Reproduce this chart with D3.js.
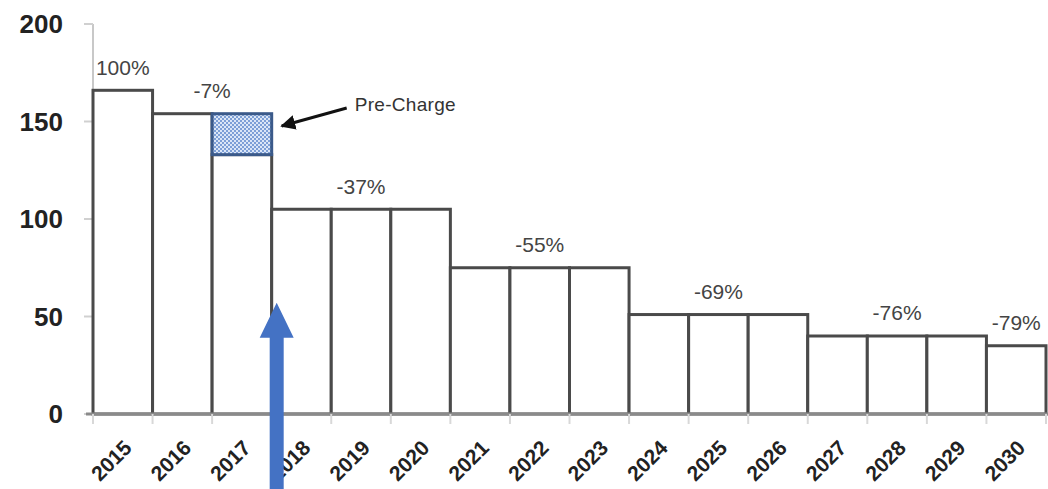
<!DOCTYPE html>
<html><head><meta charset="utf-8">
<script src="https://cdn.jsdelivr.net/npm/d3@7"></script>
<style>body{margin:0;background:#fff}svg{display:block}</style>
</head><body><svg id="c" width="1048" height="489"></svg>
<script>
const years = ["2015","2016","2017","2018","2019","2020","2021","2022","2023","2024","2025","2026","2027","2028","2029","2030"];
const values = [166,154,133,105,105,105,75,75,75,51,51,51,40,40,40,35];
const preCharge = [0,0,21,0,0,0,0,0,0,0,0,0,0,0,0,0];
const pctLabels = ["100%","-7%","-37%","-55%","-69%","-76%","-79%"];
const pctGroupFirst = ["2015","2016","2018","2021","2024","2027","2030"];
const pctGroupLast  = ["2015","2017","2020","2023","2026","2029","2030"];
const yTicks = [0,50,100,150,200];
const annotationText = "Pre-Charge";
const markerYear = "2018";

const svg = d3.select("#c");
const x = d3.scaleBand().domain(years).range([93,1046]).padding(0);
const y = d3.scaleLinear().domain([0,200]).range([414,24]);
const bw = x.bandwidth();
const FONT = "Liberation Sans, Arial, sans-serif";

const defs = svg.append("defs");
const pat = defs.append("pattern").attr("id","hatch").attr("patternUnits","userSpaceOnUse")
  .attr("width",4).attr("height",4);
pat.append("rect").attr("width",4).attr("height",4).attr("fill","#dbe6f7");
pat.append("rect").attr("width",2).attr("height",2).attr("fill","#7d9fd6");
pat.append("rect").attr("x",2).attr("y",2).attr("width",2).attr("height",2).attr("fill","#7d9fd6");
defs.append("marker").attr("id","ah").attr("viewBox","0 0 10 10").attr("refX",9).attr("refY",5)
  .attr("markerWidth",5).attr("markerHeight",5).attr("orient","auto")
  .append("path").attr("d","M0,0 L10,5 L0,10 z").attr("fill","#111");

// y axis line and ticks
svg.append("line").attr("x1",93).attr("x2",93).attr("y1",y(200)).attr("y2",y(0))
  .attr("stroke","#c8c8c8").attr("stroke-width",2);
svg.selectAll(".yt").data(yTicks).join("line").attr("x1",84).attr("x2",93)
  .attr("y1",d=>y(d)).attr("y2",d=>y(d)).attr("stroke","#d0d0d0").attr("stroke-width",2);
svg.selectAll(".yl").data(yTicks).join("text").attr("x",63).attr("y",d=>y(d))
  .attr("dy","0.36em").attr("text-anchor","end")
  .attr("font-family",FONT).attr("font-size",26).attr("font-weight","bold")
  .attr("fill","#222").text(d=>d);

// bars
svg.selectAll(".bar").data(years).join("rect")
  .attr("x",d=>x(d)).attr("width",bw)
  .attr("y",(d,i)=>y(values[i])).attr("height",(d,i)=>y(0)-y(values[i]))
  .attr("fill","#fff").attr("stroke","#4a4a4a").attr("stroke-width",3);
// pre-charge
svg.selectAll(".pre").data(years.filter((d,i)=>preCharge[i]>0)).join("rect")
  .attr("x",d=>x(d)).attr("width",bw)
  .attr("y",d=>{const i=years.indexOf(d);return y(values[i]+preCharge[i]);})
  .attr("height",d=>{const i=years.indexOf(d);return y(values[i])-y(values[i]+preCharge[i]);})
  .attr("fill","url(#hatch)").attr("stroke","#3b5a8a").attr("stroke-width",3);

// x axis
svg.append("line").attr("x1",86).attr("x2",1048).attr("y1",y(0)).attr("y2",y(0))
  .attr("stroke","#8a8a8a").attr("stroke-width",3);
svg.selectAll(".xt").data(years.concat(["end"])).join("line")
  .attr("x1",(d,i)=>93+i*bw).attr("x2",(d,i)=>93+i*bw).attr("y1",y(0)).attr("y2",y(0)+10)
  .attr("stroke","#d8d8d8").attr("stroke-width",2);
svg.selectAll(".xl").data(years).join("text")
  .attr("transform",d=>`translate(${x(d)+bw/2+5},${y(0)+30}) rotate(-45)`)
  .attr("text-anchor","end").attr("dy","0.35em")
  .attr("font-family",FONT).attr("font-size",21).attr("font-weight","bold")
  .attr("fill","#222").text(d=>d);

// percent labels
svg.selectAll(".pl").data(pctLabels).join("text")
  .attr("x",(d,i)=>(x(pctGroupFirst[i])+x(pctGroupLast[i])+bw)/2)
  .attr("y",(d,i)=>y(values[years.indexOf(pctGroupFirst[i])])-23)
  .attr("dy","0.35em").attr("text-anchor","middle")
  .attr("font-family",FONT).attr("font-size",21)
  .attr("fill","#444").text(d=>d);

// pre-charge annotation
const pi = preCharge.findIndex(v=>v>0);
const py = y(values[pi]+preCharge[pi]*0.7);
svg.append("line").attr("x1",x(years[pi])+bw+75).attr("y1",py-18)
  .attr("x2",x(years[pi])+bw+10).attr("y2",py).attr("stroke","#111").attr("stroke-width",3)
  .attr("marker-end","url(#ah)");
svg.append("text").attr("x",x(years[pi])+bw+83).attr("y",py-22).attr("dy","0.35em")
  .attr("font-family",FONT).attr("font-size",19).attr("letter-spacing","0.3px")
  .attr("fill","#333").text(annotationText);

// blue arrow
const ax = x(markerYear)+5;
const tip = y(57), hb = tip+35;
svg.append("path")
  .attr("d",`M${ax-7},489 L${ax-7},${hb} L${ax-17},${hb} L${ax},${tip} L${ax+17},${hb} L${ax+7},${hb} L${ax+7},489 Z`)
  .attr("fill","#4472c4");
</script></body></html>
